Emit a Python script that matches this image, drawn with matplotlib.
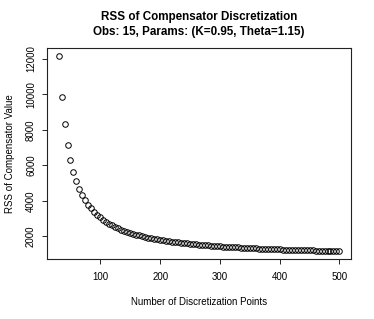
import matplotlib
matplotlib.use("Agg")
import matplotlib.pyplot as plt

plt.rcParams['font.family'] = ['Liberation Sans', 'DejaVu Sans']

# number of discretization points (30 to 500, step 5)
n_points = list(range(30, 505, 5))
# RSS values
rss = [12164, 9877, 8306, 7170, 6315, 5651, 5122, 4692, 4336, 4037,
       3783, 3564, 3374, 3207, 3060, 2929, 2812, 2707, 2612, 2525,
       2447, 2374, 2308, 2247, 2191, 2138, 2090, 2044, 2002, 1962,
       1925, 1890, 1857, 1826, 1796, 1768, 1742, 1717, 1693, 1671,
       1649, 1629, 1609, 1591, 1573, 1556, 1539, 1523, 1508, 1494,
       1480, 1466, 1453, 1441, 1429, 1417, 1406, 1395, 1385, 1375,
       1365, 1356, 1346, 1337, 1329, 1321, 1312, 1305, 1297, 1290,
       1282, 1275, 1268, 1262, 1255, 1249, 1243, 1237, 1231, 1225,
       1220, 1214, 1209, 1204, 1199, 1194, 1189, 1184, 1180, 1175,
       1171, 1167, 1163, 1158, 1154]
xticks = [100, 200, 300, 400, 500]
yticks = [2000, 4000, 6000, 8000, 10000, 12000]

W, H = 374, 319
fig = plt.figure(figsize=(W / 100, H / 100), dpi=100)
ax = fig.add_axes([47.3 / W, 1 - 259 / H, (350.7 - 47.3) / W, (259 - 48.3) / H])

ax.plot(n_points, rss, linestyle='none', marker='o', markersize=4,
        markerfacecolor='none', markeredgecolor='black', markeredgewidth=0.7)

# R style axis ranges: 4% padding
xr = max(n_points) - min(n_points)
yr = max(rss) - min(rss)
ax.set_xlim(min(n_points) - 0.04 * xr, max(n_points) + 0.04 * xr)
ax.set_ylim(min(rss) - 0.04 * yr, max(rss) + 0.04 * yr)

ax.set_xticks(xticks)
ax.set_yticks(yticks)
ax.set_xticklabels([str(t) for t in xticks])
ax.set_yticklabels([str(t) for t in yticks], rotation=90, va='center')
ax.tick_params(axis='both', length=3.6, width=0.6, labelsize=7, colors='black')
ax.tick_params(axis='x', pad=6)
ax.tick_params(axis='y', pad=4.5)
for s in ax.spines.values():
    s.set_linewidth(0.8)
    s.set_color('#222222')

ax.set_title("RSS of Compensator Discretization\nObs: 15, Params: (K=0.95, Theta=1.15)",
             fontsize=8.4, fontweight='bold', linespacing=1.35, pad=9.5)
ax.set_xlabel("Number of Discretization Points", fontsize=7, labelpad=10.5)
ax.set_ylabel("RSS of Compensator Value", fontsize=7, labelpad=8)

fig.savefig("out.png", dpi=100)
